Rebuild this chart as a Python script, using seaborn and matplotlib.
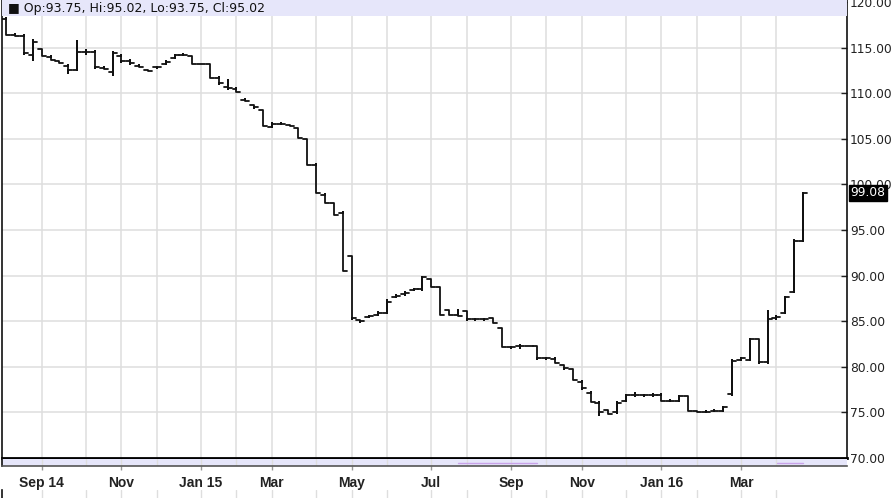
import numpy as np
import pandas as pd
import matplotlib
matplotlib.use("Agg")
import matplotlib.pyplot as plt
from matplotlib.patches import Rectangle
import seaborn as sns

# ---------------- data (weekly OHLC bars) ----------------
start_date = "2014-08-04"
opens = [118.1, 116.4, 116.3, 114.2, 114.85, 114.0, 113.5, 113.0, 112.55, 114.55,
         114.55, 112.8, 112.35, 114.1, 113.57, 113.0, 112.5, 112.84, 113.17, 113.9,
         114.19, 114.08, 113.2, 113.2, 111.7, 110.65, 110.5, 109.3, 108.7, 108.16,
         106.33, 106.65, 106.5, 106.15, 104.94, 102.13, 98.84, 97.95, 96.9, 92.15,
         85.1, 85.5, 85.7, 85.95, 87.68, 87.95, 88.42, 88.5, 89.6, 88.78,
         86.2, 85.7, 86.1, 85.2, 85.2, 85.3, 84.22, 82.14, 82.28, 82.28,
         82.28, 80.93, 80.9, 80.2, 79.72, 78.37, 77.17, 76.06, 75.25, 75.0,
         76.3, 76.95, 76.9, 76.9, 76.95, 76.3, 76.3, 76.8, 75.15, 75.08,
         75.2, 75.2, 76.98, 80.8, 80.8, 83.0, 80.49, 85.3, 85.93, 88.24,
         93.75]
highs = [118.2, 116.45, 116.35, 115.8, 114.9, 114.05, 113.55, 113.05, 115.75, 114.75,
         114.6, 112.85, 114.5, 114.15, 113.6, 113.05, 112.55, 112.9, 113.5, 114.2,
         114.25, 114.1, 113.25, 113.25, 111.75, 111.5, 110.55, 109.35, 108.75, 108.2,
         106.7, 106.7, 106.55, 106.2, 105.0, 102.2, 98.9, 98.0, 96.95, 92.2,
         85.15, 85.6, 86.0, 87.3, 87.85, 88.15, 88.55, 89.9, 89.65, 88.8,
         86.25, 86.2, 86.15, 85.25, 85.25, 85.35, 84.25, 82.2, 82.4, 82.3,
         82.3, 80.95, 80.95, 80.25, 79.75, 78.4, 77.2, 76.1, 75.3, 76.1,
         76.95, 77.1, 76.95, 77.0, 77.0, 76.35, 76.85, 76.85, 75.2, 75.15,
         75.25, 75.6, 80.7, 80.95, 83.0, 83.05, 86.15, 85.55, 87.7, 93.85,
         99.08]
lows = [116.35, 116.25, 114.3, 113.6, 114.05, 113.6, 113.3, 112.25, 112.5, 114.35,
        112.8, 112.6, 112.0, 113.45, 113.25, 112.85, 112.4, 112.8, 113.15, 113.85,
        114.15, 113.15, 113.15, 111.65, 111.05, 110.5, 110.15, 109.15, 108.4, 106.35,
        106.3, 106.6, 106.4, 105.05, 102.1, 99.05, 97.95, 96.6, 90.5, 85.25,
        84.9, 85.45, 85.65, 85.9, 87.65, 87.9, 88.4, 88.45, 88.75, 85.65,
        85.65, 85.55, 85.15, 85.15, 85.15, 84.75, 82.15, 82.1, 82.1, 82.25,
        80.9, 80.9, 80.4, 79.8, 78.5, 77.6, 76.15, 74.7, 74.8, 74.95,
        76.25, 76.85, 76.85, 76.8, 76.25, 76.25, 76.25, 75.1, 75.05, 75.0,
        75.15, 75.15, 76.95, 80.75, 80.75, 80.45, 80.45, 85.25, 85.9, 88.2,
        93.75]
closes = [116.4, 116.3, 114.37, 115.6, 114.1, 113.65, 113.35, 112.55, 114.55, 114.55,
          112.85, 112.62, 114.45, 113.5, 113.28, 112.9, 112.47, 112.84, 113.46, 114.15,
          114.19, 113.2, 113.2, 111.7, 111.1, 110.55, 110.17, 109.2, 108.45, 106.4,
          106.65, 106.65, 106.45, 105.1, 102.13, 99.09, 98.0, 96.64, 90.54, 85.3,
          85.0, 85.57, 85.95, 87.14, 87.8, 88.1, 88.5, 89.88, 88.78, 85.68,
          85.7, 85.6, 85.2, 85.2, 85.2, 84.77, 82.2, 82.14, 82.28, 82.28,
          80.93, 80.93, 80.45, 79.85, 78.55, 77.64, 76.17, 75.07, 74.85, 76.06,
          76.9, 76.95, 76.9, 76.9, 76.28, 76.3, 76.8, 75.15, 75.08, 75.08,
          75.2, 75.55, 80.68, 80.93, 83.0, 80.49, 85.2, 85.5, 87.68, 93.83,
          99.08]
y_ticks = [70, 75, 80, 85, 90, 95, 100, 105, 110, 115, 120]
x_tick_labels = ["Sep 14", "Nov", "Jan 15", "Mar", "May", "Jul", "Sep", "Nov", "Jan 16", "Mar"]
header_text = "Op:93.75, Hi:95.02, Lo:93.75, Cl:95.02"
last_price_label = "99.08"
last_price = 99.08
marker_spans = [(51.0, 59.9), (87.1, 90.0)]

# ---------------- derived positions ----------------
dates = pd.date_range(start_date, periods=len(closes), freq="7D")
month_starts = [i for i in range(1, len(dates)) if dates[i].month != dates[i - 1].month]
labeled_starts = [i for i in month_starts if dates[i].month % 2 == 1]

w = 0.45
rows = []
for i, (o, h, l, c) in enumerate(zip(opens, highs, lows, closes)):
    for x, y in [(i - w, o), (i, o), (i, h), (i, l), (i, c), (i + w, c)]:
        rows.append({"x": x, "y": y, "bar": i})
df = pd.DataFrame(rows)

# ---------------- figure ----------------
sns.set_theme(style="whitegrid")
plt.rcParams["font.family"] = ["DejaVu Sans"]

W, H = 896, 498
fig = plt.figure(figsize=(W / 100, H / 100), dpi=100)
fig.patch.set_facecolor("white")

left_px, right_px = 2, 847
ax = fig.add_axes([left_px / W, (H - 458) / H, (right_px - left_px) / W, 458 / H])
strip = fig.add_axes([left_px / W, (H - 466) / H, (right_px - left_px) / W, 7 / H])
low_ax = fig.add_axes([left_px / W, 0, (right_px - left_px) / W, 8 / H])

grid_color = "#dedede"
lavender = "#e6e6fa"
xlim = (-0.49, 94.97)

sns.lineplot(data=df, x="x", y="y", units="bar", estimator=None, sort=False,
             color="#111111", lw=1.3, ax=ax, legend=False)

ax.set_xlim(*xlim)
ax.set_ylim(70, 120.22)
ax.set_xlabel("")
ax.set_ylabel("")
ax.set_facecolor("white")
ax.set_xticks(month_starts)
ax.set_xticklabels([])
ax.tick_params(axis="x", length=0)
ax.set_yticks(y_ticks)
ax.set_yticklabels([f"{v:.2f}" for v in y_ticks])
ax.yaxis.tick_right()
ax.tick_params(axis="y", direction="in", length=4, width=1, color="#222222",
               pad=2, labelsize=8.8, labelcolor="#222222", right=True, left=False)
ax.grid(True, color=grid_color, lw=1.1)
ax.set_axisbelow(True)
for s in ["left", "right"]:
    ax.spines[s].set_visible(True)
    ax.spines[s].set_color("#111111")
    ax.spines[s].set_linewidth(1.2)
ax.spines["bottom"].set_color("#000000")
ax.spines["bottom"].set_linewidth(2.0)
ax.spines["top"].set_visible(False)

# header band
ax.add_patch(Rectangle((0, 1 - 16.5 / 458), 1, 16.5 / 458, transform=ax.transAxes,
                       facecolor=lavender, edgecolor="none", zorder=5, clip_on=False))
ax.text(6 / 845, 1 - 8.5 / 458, "\u25A0 " + header_text, transform=ax.transAxes,
        ha="left", va="center", fontsize=9, color="#111111", zorder=6)

# last price box
ax.annotate(last_price_label, xy=(1, last_price), xycoords=("axes fraction", "data"),
            xytext=(2.6, 0), textcoords="offset points", ha="left", va="center",
            fontsize=8.8, color="white", zorder=10, annotation_clip=False,
            bbox=dict(boxstyle="square,pad=0.12", fc="black", ec="black"))

# strip below the main panel
strip.set_xlim(*xlim)
strip.set_ylim(0, 1)
strip.set_facecolor(lavender)
strip.set_xticks(labeled_starts)
strip.set_xticklabels(x_tick_labels, fontsize=10, fontweight="bold",
                      family=["Liberation Sans", "DejaVu Sans"], color="#222222")
strip.set_xticks(month_starts, minor=True)
strip.set_yticks([])
strip.tick_params(axis="x", which="major", direction="out", length=3, width=1,
                  color="#999999", pad=4, bottom=True)
strip.tick_params(axis="x", which="minor", length=0)
strip.grid(True, which="both", axis="x", color=grid_color, lw=1.0)
strip.grid(False, axis="y")
for a, b in marker_spans:
    strip.plot([a, b], [0.45, 0.45], color="#c9a3ea", lw=1.0)
for s in ["top", "right"]:
    strip.spines[s].set_visible(False)
strip.spines["left"].set_color("#111111")
strip.spines["left"].set_linewidth(1.2)
strip.spines["bottom"].set_color("#555555")
strip.spines["bottom"].set_linewidth(1.2)

# cut-off lower panel
low_ax.set_xlim(*xlim)
low_ax.set_ylim(0, 1)
low_ax.set_xticks(month_starts)
low_ax.set_xticklabels([])
low_ax.set_yticks([])
low_ax.tick_params(length=0)
low_ax.grid(True, axis="x", color=grid_color, lw=1.0)
low_ax.grid(False, axis="y")
low_ax.set_facecolor("white")
for s in ["top", "right", "bottom"]:
    low_ax.spines[s].set_visible(False)
low_ax.spines["left"].set_color("#111111")
low_ax.spines["left"].set_linewidth(1.2)

fig.savefig("out.png", dpi=100, facecolor="white")
